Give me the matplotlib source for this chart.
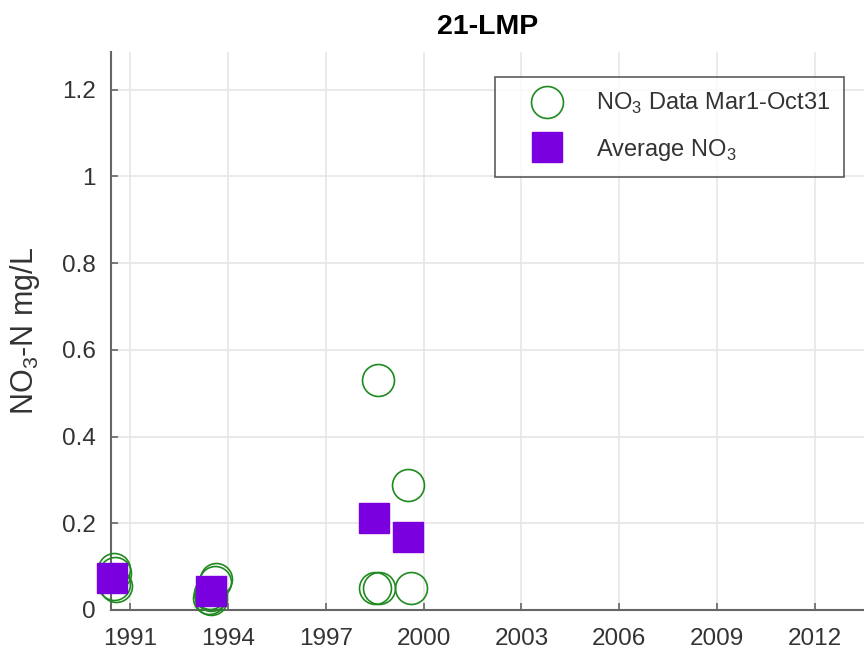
import numpy as np
import matplotlib
matplotlib.use("Agg")
import matplotlib.pyplot as plt

plt.rcParams['font.family'] = ['Liberation Sans', 'DejaVu Sans']
plt.rcParams['mathtext.fontset'] = 'custom'
plt.rcParams['mathtext.rm'] = 'Liberation Sans'

# individual NO3 samples (decimal year, mg/L)
sample_years = [1990.52, 1990.55, 1990.50, 1990.56,
                1993.65, 1993.60, 1993.45, 1993.50, 1993.42, 1993.48,
                1998.59, 1998.50, 1998.62,
                1999.51, 1999.63]
sample_no3 = [0.095, 0.085, 0.060, 0.055,
              0.072, 0.065, 0.040, 0.035, 0.028, 0.025,
              0.530, 0.050, 0.050,
              0.288, 0.050]

# seasonal averages
avg_years = [1990.45, 1993.48, 1998.47, 1999.51]
avg_no3 = [0.074, 0.044, 0.212, 0.168]

xticks = [1991, 1994, 1997, 2000, 2003, 2006, 2009, 2012]
yticks = [0, 0.2, 0.4, 0.6, 0.8, 1, 1.2]
ytick_labels = ['0', '0.2', '0.4', '0.6', '0.8', '1', '1.2']

text_col = '#333333'
axis_col = '#666666'

fig = plt.figure(figsize=(8.64, 6.51), dpi=100)
ax = fig.add_axes([111 / 864, 41 / 651, 753 / 864, 558 / 651])

ax.plot(sample_years, sample_no3, linestyle='none', marker='o', markersize=23,
        markerfacecolor='none', markeredgecolor='#1f8a1f', markeredgewidth=1.2,
        label=r'NO$_3$ Data Mar1-Oct31', clip_on=False, zorder=3)
ax.plot(avg_years, avg_no3, linestyle='none', marker='s', markersize=21,
        markerfacecolor='#7a00e0', markeredgecolor='#7a00e0',
        label=r'Average NO$_3$', clip_on=False, zorder=4)

ax.set_xlim(1990.42, 2013.5)
ax.set_ylim(0, 1.287)
ax.set_xticks(xticks)
ax.set_yticks(yticks)
ax.set_yticklabels(ytick_labels)

ax.grid(True, color='#e6e6e6', linewidth=1.2)
ax.set_axisbelow(True)
for side in ['top', 'right']:
    ax.spines[side].set_visible(False)
for side in ['left', 'bottom']:
    ax.spines[side].set_color(axis_col)
    ax.spines[side].set_linewidth(1.5)

ax.tick_params(direction='in', length=5, width=1.2, color=axis_col,
               labelsize=17.5, labelcolor=text_col)
ax.tick_params(axis='x', pad=13)
ax.tick_params(axis='y', pad=11)

ax.set_ylabel(r'NO$_3$-N mg/L', fontsize=22, color=text_col)
ax.yaxis.set_label_coords(-0.091, 0.5)
ax.set_title('21-LMP', fontsize=20.5, fontweight='bold', color='black', pad=13)

leg = ax.legend(loc='upper right', bbox_to_anchor=(0.9734, 0.955), fontsize=17,
                frameon=True, fancybox=False, edgecolor='#333333',
                labelspacing=0.85, handlelength=3.2, handletextpad=0.45,
                borderpad=0.6, borderaxespad=0)
leg.get_frame().set_linewidth(1.2)
for t in leg.get_texts():
    t.set_color(text_col)

fig.savefig('out.png', dpi=100)
